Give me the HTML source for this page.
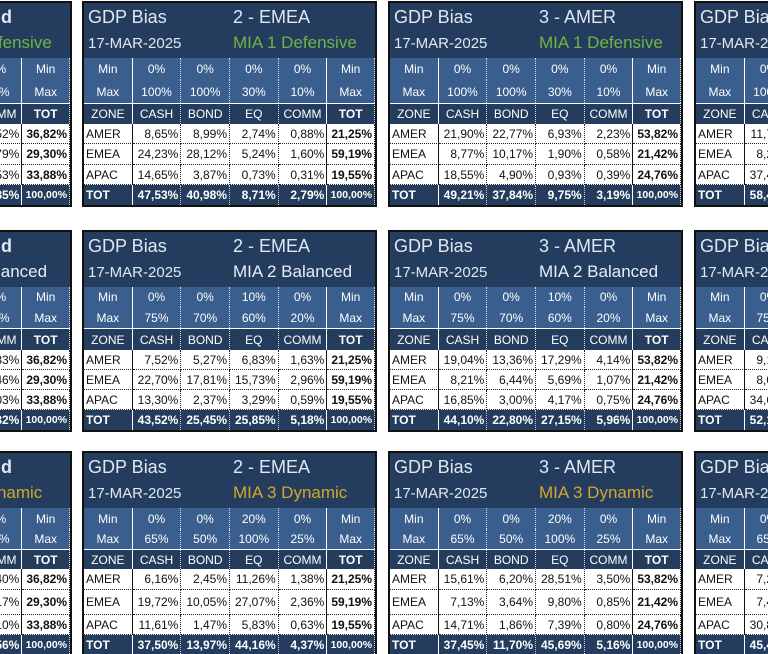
<!DOCTYPE html>
<html><head><meta charset="utf-8">
<style>
body{margin:0;width:768px;height:654px;overflow:hidden;background:#fff;position:relative;font-family:"Liberation Sans",Arial,sans-serif}
#wrap{position:absolute;left:0;top:0;width:768px;height:654px;overflow:hidden}
.panel{position:absolute;width:295px;border:2px solid #111;box-sizing:border-box;background:#243d5f;overflow:hidden}
.hdr{position:relative;height:55px;background:#243d5f;color:#dfe8f2}
.hdr span{position:absolute;white-space:nowrap}
.t1{font-size:18px;top:4px}
.t2{font-size:15px;top:32px}
.row{display:flex;font-size:12px}
.c{width:49px;box-sizing:border-box;display:flex;align-items:center;padding:0 2px;white-space:nowrap;overflow:visible}
.mm .c{background:#3a5f8f;color:#fff;justify-content:center;border-right:1px dotted #dde}
.zh .c{background:#243d5f;color:#fff;justify-content:center;border-right:1px dotted #dde;border-top:1px solid #fff}
.dr .c{background:#fff;color:#111;justify-content:flex-end;border-right:1px dotted #222;border-bottom:1px dotted #222}
.tr .c{background:#243d5f;color:#fff;font-weight:bold;justify-content:flex-end;border-right:1px dotted #ccd}
.c.z{justify-content:flex-start!important;border-right:1px solid #111}
.mm .c.z,.zh .c.z{justify-content:center!important;border-right:1px solid #fff}
.mm .c.p5,.zh .c.p5{border-right:1px solid #fff}
.dr .c.p5{border-right:1px solid #111}
.tr .c.z,.tr .c.p5{border-right:1px solid #fff}
.c.b{font-weight:bold}
.tr .c.tt{font-size:10.5px}
</style></head><body>
<div id="wrap"></div>
<script>
const lefts=[-223,82,388,694];
const tops=[1,230,451];
const heights=[[22,23,21,[20,21,20],20],[20,21,22,[20,20,20],20],[21,20,20,[21,25,20],19]];
const zones=["1 - World","2 - EMEA","3 - AMER","4 - APAC"];
const mias=["MIA 1 Defensive","MIA 2 Balanced","MIA 3 Dynamic"];
const miaColors=["#6fb343","#e6edf5","#d4a62a"];
const mins=[["0%","0%","0%","0%"],["0%","0%","10%","0%"],["0%","0%","20%","0%"]];
const maxs=[["100%","100%","30%","10%"],["75%","70%","60%","20%"],["65%","50%","100%","25%"]];
const regions=["AMER","EMEA","APAC"];
const vals={
"0-0":[["11,52%","11,41%","9,37%","4,52%","36,82%"],["9,11%","9,86%","7,54%","2,79%","29,30%"],["10,33%","10,88%","8,14%","4,53%","33,88%"],["30,96%","32,15%","25,05%","11,85%","100,00%"]],
"1-0":[["8,65%","8,99%","2,74%","0,88%","21,25%"],["24,23%","28,12%","5,24%","1,60%","59,19%"],["14,65%","3,87%","0,73%","0,31%","19,55%"],["47,53%","40,98%","8,71%","2,79%","100,00%"]],
"2-0":[["21,90%","22,77%","6,93%","2,23%","53,82%"],["8,77%","10,17%","1,90%","0,58%","21,42%"],["18,55%","4,90%","0,93%","0,39%","24,76%"],["49,21%","37,84%","9,75%","3,19%","100,00%"]],
"3-0":[["11,74%","","","",""],["8,29%","","","",""],["37,40%","","","",""],["58,43%","","","",""]],
"0-1":[["10,20%","9,11%","9,68%","7,83%","36,82%"],["8,02%","7,40%","7,42%","6,46%","29,30%"],["9,60%","8,30%","8,95%","7,03%","33,88%"],["27,82%","24,81%","26,05%","21,32%","100,00%"]],
"1-1":[["7,52%","5,27%","6,83%","1,63%","21,25%"],["22,70%","17,81%","15,73%","2,96%","59,19%"],["13,30%","2,37%","3,29%","0,59%","19,55%"],["43,52%","25,45%","25,85%","5,18%","100,00%"]],
"2-1":[["19,04%","13,36%","17,29%","4,14%","53,82%"],["8,21%","6,44%","5,69%","1,07%","21,42%"],["16,85%","3,00%","4,17%","0,75%","24,76%"],["44,10%","22,80%","27,15%","5,96%","100,00%"]],
"3-1":[["9,10%","","","",""],["8,05%","","","",""],["34,60%","","","",""],["52,15%","","","",""]],
"0-2":[["8,10%","4,60%","14,72%","9,40%","36,82%"],["6,20%","3,70%","11,23%","8,17%","29,30%"],["7,30%","4,20%","12,28%","10,10%","33,88%"],["21,60%","12,50%","38,23%","27,56%","100,00%"]],
"1-2":[["6,16%","2,45%","11,26%","1,38%","21,25%"],["19,72%","10,05%","27,07%","2,36%","59,19%"],["11,61%","1,47%","5,83%","0,63%","19,55%"],["37,50%","13,97%","44,16%","4,37%","100,00%"]],
"2-2":[["15,61%","6,20%","28,51%","3,50%","53,82%"],["7,13%","3,64%","9,80%","0,85%","21,42%"],["14,71%","1,86%","7,39%","0,80%","24,76%"],["37,45%","11,70%","45,69%","5,16%","100,00%"]],
"3-2":[["7,20%","","","",""],["7,40%","","","",""],["30,80%","","","",""],["45,40%","","","",""]]
};
const wrap=document.getElementById('wrap');
function mk(tag,cls,parent,text){
  const e=document.createElement(tag);
  if(cls)e.className=cls;
  if(text!==undefined)e.textContent=text;
  parent.appendChild(e);
  return e;
}
for(let r=0;r<3;r++){
 for(let p=0;p<4;p++){
  const H=heights[r];
  const pn=mk('div','panel',wrap);
  
  
  pn.style.left=lefts[p]+'px';pn.style.top=tops[r]+'px';
  const hd=mk('div','hdr',pn);
  
  
  const a=mk('span','t1',hd,'GDP Bias');a.style.left='4px';
  
  
  const b=mk('span','t1',hd,zones[p]);b.style.left='149px';
  if(p===0){b.style.fontWeight='bold';b.style.left='';b.style.right='58px';}
  
  
  const c=mk('span','t2',hd,'17-MAR-2025');c.style.left='4px';
  
  
  const d=mk('span','t2',hd,mias[r]);d.style.left='149px';d.style.fontSize='17px';d.style.top='30px';d.style.color=miaColors[r];
  
  
  const rowsDef=[
   ['mm',H[0],['Min',...mins[r],'Min'],'min-row'],
   ['mm',H[1],['Max',...maxs[r],'Max'],'max-row'],
   ['zh',H[2],['ZONE','CASH','BOND','EQ','COMM','TOT'],'column-header-row']];
  for(let i=0;i<3;i++)rowsDef.push(['dr',H[3][i],[regions[i],...vals[p+'-'+r][i]],'row-'+regions[i].toLowerCase()]);
  rowsDef.push(['tr',H[4],['TOT',...vals[p+'-'+r][3]],'total-row']);
  rowsDef.forEach(rd=>{
    const row=mk('div','row '+rd[0],pn);
    row.style.height=rd[1]+'px';
    
    
    rd[2].forEach((t,k)=>{
      let cls='c';
      if(k===0)cls+=' z';
      if(k===4)cls+=' p5';
      if(k===5&&(rd[0]==='dr'||rd[0]==='tr'||rd[0]==='zh'))cls+=' b';
      if(k===5&&rd[0]==='tr')cls+=' tt';
      if(k===0&&rd[0]==='tr')cls+=' b';
      const cell=mk('div',cls,row,t);
      if(k===5){cell.style.width='48px';}
      
      
    });
  });
 }
}
</script>
</body></html>
